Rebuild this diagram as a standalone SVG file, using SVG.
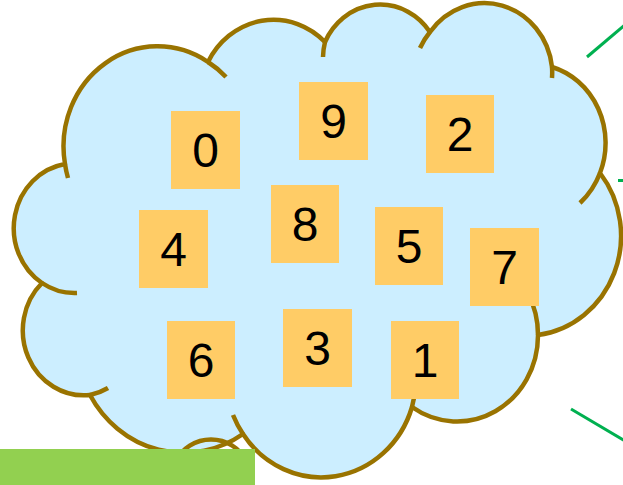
<svg xmlns="http://www.w3.org/2000/svg" width="623" height="485" viewBox="0 0 623 485">
<style>
.cloud{fill:#cceeff;stroke:#997300;stroke-width:4.5;stroke-linejoin:round}
.tail{fill:none;stroke:#997300;stroke-width:4.5}
.box{fill:#ffcc66}
.lbl{font-family:"Liberation Sans",Arial,sans-serif;font-size:48px;fill:#000;text-anchor:middle}
.gl{stroke:#00b050;stroke-width:3;fill:none}
</style>
<rect width="623" height="485" fill="#ffffff"/>
<g id="cloud">
<path class="cloud" d="M65,164 A94,100 0 0 1 208,62 A74,79 0 0 1 325,42 A61,65 0 0 1 430,32 A68,72 0 0 1 552,67 A74,79 0 0 1 600,173 A95,100 0 0 1 538,335 A81,86 0 0 1 412,407 A95,100 0 0 1 243,434 A108,115 0 0 1 90,395 A61,65 0 0 1 42,283 A61,65 0 0 1 65,164 Z"/>
<path class="tail" d="M68,178 A94,100 0 0 1 65,164 M208,62 A94,100 0 0 1 226,77 M323,57 A61,65 0 0 1 325,42 M420,48 A68,72 0 0 1 430,32 M552,67 A68,72 0 0 1 552,78 M600,173 A74,79 0 0 1 580,203 M500,262 A81,86 0 0 1 538,335 M415,390 A95,100 0 0 1 412,407 M243,434 A95,100 0 0 1 233,415 M108,388 A61,65 0 0 1 90,395 M77,293 A61,65 0 0 1 42,283"/>
<path class="tail" d="M175,462 A40,40 0 0 1 247,462"/>
</g>
<g id="connectors">
<line class="gl" x1="587" y1="57" x2="640" y2="12"/>
<line class="gl" x1="618" y1="180.5" x2="630" y2="180.5"/>
<line class="gl" x1="571" y1="409" x2="630" y2="444"/>
</g>
<g id="n0"><rect class="box" x="171" y="111" width="69" height="78"/><text class="lbl" x="205.5" y="167">0</text></g>
<g id="n9"><rect class="box" x="299" y="82" width="69" height="78"/><text class="lbl" x="333.5" y="138">9</text></g>
<g id="n2"><rect class="box" x="426" y="95" width="68" height="78"/><text class="lbl" x="460" y="151">2</text></g>
<g id="n8"><rect class="box" x="271" y="185" width="68" height="78"/><text class="lbl" x="305" y="241">8</text></g>
<g id="n4"><rect class="box" x="139" y="210" width="69" height="78"/><text class="lbl" x="173.5" y="266">4</text></g>
<g id="n5"><rect class="box" x="375" y="207" width="68" height="78"/><text class="lbl" x="409" y="263">5</text></g>
<g id="n7"><rect class="box" x="470" y="228" width="69" height="78"/><text class="lbl" x="504.5" y="284">7</text></g>
<g id="n6"><rect class="box" x="167" y="321" width="68" height="78"/><text class="lbl" x="201" y="377">6</text></g>
<g id="n3"><rect class="box" x="283" y="309" width="69" height="78"/><text class="lbl" x="317.5" y="365">3</text></g>
<g id="n1"><rect class="box" x="391" y="321" width="68" height="78"/><text class="lbl" x="425" y="377">1</text></g>
<rect x="0" y="449" width="255" height="36" fill="#92d050"/>
</svg>
